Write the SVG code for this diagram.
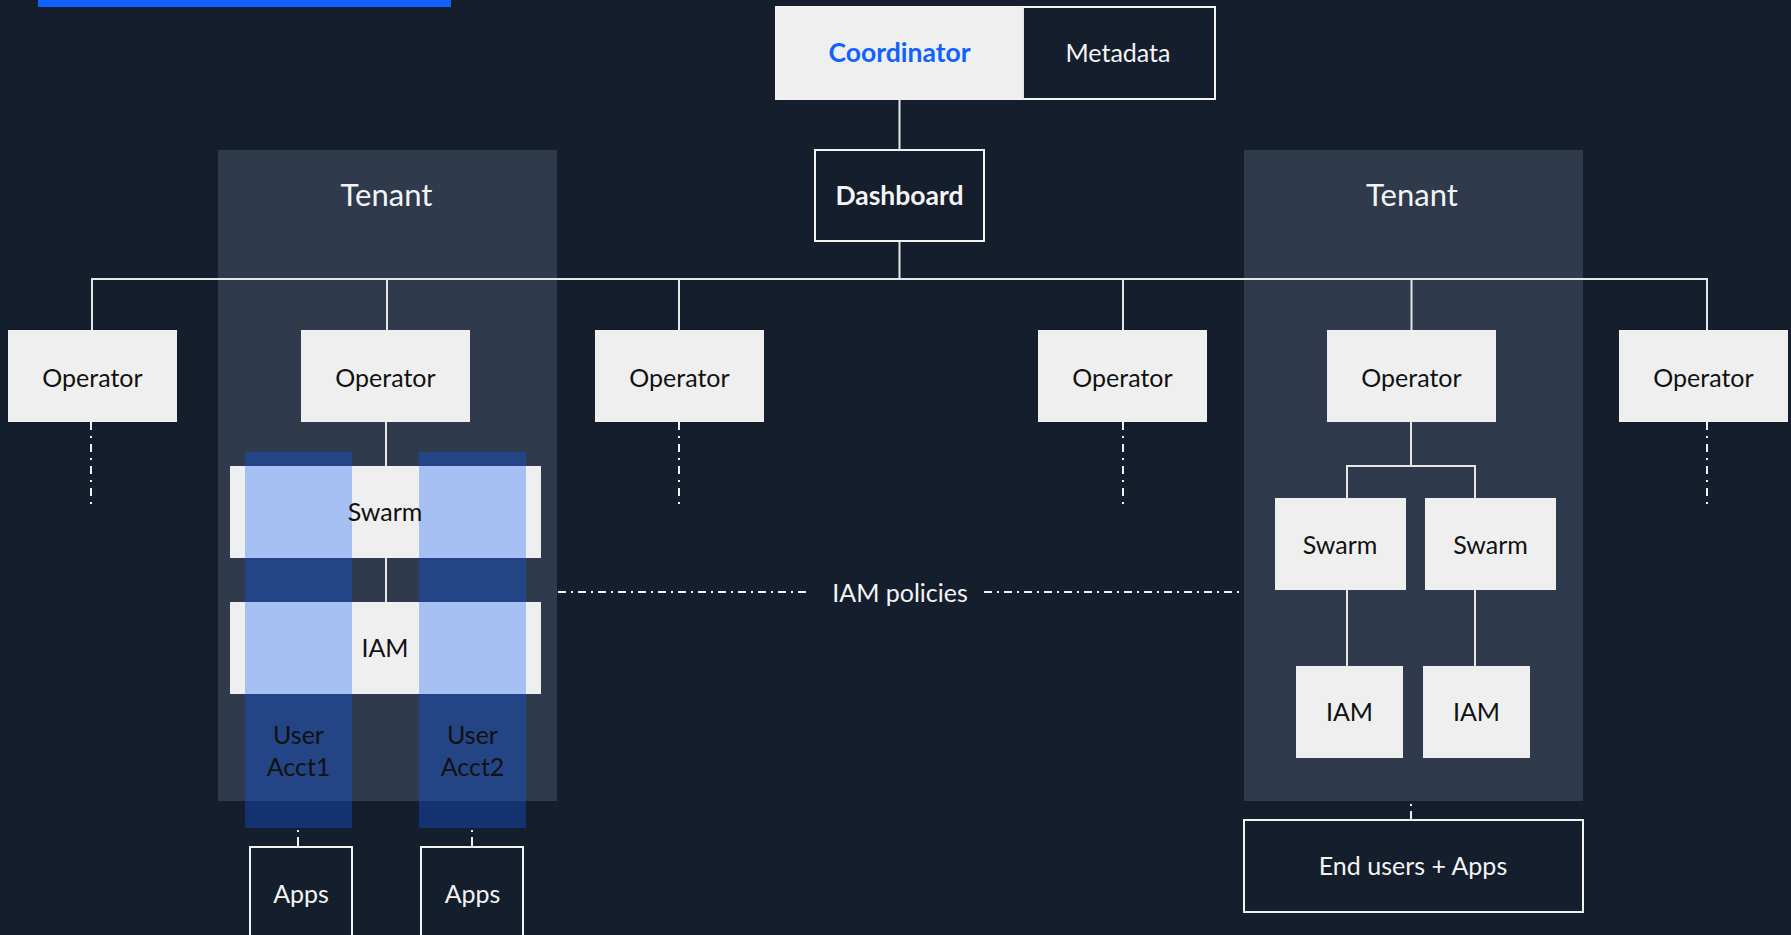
<svg xmlns="http://www.w3.org/2000/svg" width="1791" height="935" viewBox="0 0 1791 935">
<style>
.bg{fill:#151e2d}
.tenant{fill:#2f3a4d}
.light{fill:#efefef}
.darkbox{fill:#151e2d;stroke:#f2f2f2;stroke-width:2}
.acct{fill:#0f5cfb;fill-opacity:0.32}
.t{font-family:Lato,"Liberation Sans",sans-serif;font-size:25px;text-anchor:middle}
.dk{fill:#111111}
.wt{fill:#f4f4f4}
.big{font-size:31px}
.b{font-weight:700;font-size:26.5px}
.ln{stroke:#e6e6e6;stroke-width:2;fill:none}
.dd{stroke:#f0f0f0;stroke-width:2;fill:none;stroke-dasharray:8 6 2 6}
.dp{stroke:#f0f0f0;stroke-width:2;fill:none;stroke-dasharray:8 5 2 5}
</style>
<rect class="bg" x="0" y="0" width="1791" height="935"/>
<rect x="38" y="0" width="413" height="7" fill="#0f62fe"/>

<g id="tenant-left">
<rect class="tenant" x="218" y="150" width="339" height="651"/>
<text class="t wt big" x="386.5" y="206">Tenant</text>
</g>
<g id="tenant-right">
<rect class="tenant" x="1244" y="150" width="339" height="651"/>
<text class="t wt big" x="1412" y="206">Tenant</text>
</g>

<g id="connectors">
<line class="ln" x1="899.5" y1="99" x2="899.5" y2="150"/>
<line class="ln" x1="899.5" y1="241" x2="899.5" y2="279"/>
<line class="ln" x1="91" y1="279" x2="1708" y2="279"/>
<line class="ln" x1="92" y1="279" x2="92" y2="330"/>
<line class="ln" x1="387" y1="279" x2="387" y2="330"/>
<line class="ln" x1="679" y1="279" x2="679" y2="330"/>
<line class="ln" x1="1123" y1="279" x2="1123" y2="330"/>
<line class="ln" x1="1411.5" y1="279" x2="1411.5" y2="330"/>
<line class="ln" x1="1707" y1="279" x2="1707" y2="330"/>
<line class="dd" x1="91" y1="422" x2="91" y2="504"/>
<line class="dd" x1="679" y1="422" x2="679" y2="504"/>
<line class="dd" x1="1123" y1="422" x2="1123" y2="504"/>
<line class="dd" x1="1707" y1="422" x2="1707" y2="504"/>
<line class="ln" x1="386" y1="422" x2="386" y2="466"/>
<line class="ln" x1="386" y1="557" x2="386" y2="602"/>
<polyline class="ln" points="1411,422 1411,466"/>
<polyline class="ln" points="1347,498 1347,466 1475,466 1475,498"/>
<line class="ln" x1="1347" y1="590" x2="1347" y2="666"/>
<line class="ln" x1="1475" y1="590" x2="1475" y2="666"/>
<line class="dp" x1="558" y1="592" x2="810" y2="592"/>
<line class="dp" x1="984" y1="592" x2="1243" y2="592"/>
<line stroke="#f0f0f0" stroke-width="2" stroke-dasharray="0 2 2 5 9 40" x1="298" y1="828" x2="298" y2="847"/>
<line stroke="#f0f0f0" stroke-width="2" stroke-dasharray="0 2 2 5 9 40" x1="472" y1="828" x2="472" y2="847"/>
<line stroke="#f0f0f0" stroke-width="2" stroke-dasharray="0 3 2 5 9 40" x1="1411" y1="801" x2="1411" y2="820"/>
</g>
<text class="t wt" x="900" y="601.5">IAM policies</text>

<g id="coordinator">
<rect class="light" x="776" y="7" width="247" height="92"/>
<rect x="776" y="7" width="439" height="92" fill="none" stroke="#f2f2f2" stroke-width="2"/>
<text class="t b" x="899.5" y="62" fill="#0f62fe">Coordinator</text>
</g>
<g id="metadata">
<rect class="bg" x="1024" y="8" width="190" height="90"/>
<line class="ln" x1="1023" y1="7" x2="1023" y2="99"/>
<text class="t wt" x="1118" y="62">Metadata</text>
</g>
<g id="dashboard">
<rect class="darkbox" x="815" y="150" width="169" height="91"/>
<text class="t wt b" x="899.5" y="204.5">Dashboard</text>
</g>

<g id="operator1"><rect class="light" x="8" y="330" width="169" height="92"/><text class="t dk" x="92.5" y="386.5">Operator</text></g>
<g id="operator2"><rect class="light" x="301" y="330" width="169" height="92"/><text class="t dk" x="385.5" y="386.5">Operator</text></g>
<g id="operator3"><rect class="light" x="595" y="330" width="169" height="92"/><text class="t dk" x="679.5" y="386.5">Operator</text></g>
<g id="operator4"><rect class="light" x="1038" y="330" width="169" height="92"/><text class="t dk" x="1122.5" y="386.5">Operator</text></g>
<g id="operator5"><rect class="light" x="1327" y="330" width="169" height="92"/><text class="t dk" x="1411.5" y="386.5">Operator</text></g>
<g id="operator6"><rect class="light" x="1619" y="330" width="169" height="92"/><text class="t dk" x="1703.5" y="386.5">Operator</text></g>

<g id="swarm-left"><rect class="light" x="230" y="466" width="311" height="92"/></g>
<g id="iam-left"><rect class="light" x="230" y="602" width="311" height="92"/></g>
<g id="user-acct1">
<rect class="acct" x="245" y="452" width="107" height="376"/>
<text class="t dk" x="298.5" y="744">User</text>
<text class="t dk" x="298.5" y="776">Acct1</text>
</g>
<g id="user-acct2">
<rect class="acct" x="419" y="452" width="107" height="376"/>
<text class="t dk" x="472.5" y="744">User</text>
<text class="t dk" x="472.5" y="776">Acct2</text>
</g>
<text class="t dk" x="385" y="521">Swarm</text>
<text class="t dk" x="385" y="657">IAM</text>

<g id="apps1"><rect class="darkbox" x="250" y="847" width="102" height="100"/><text class="t wt" x="301" y="903">Apps</text></g>
<g id="apps2"><rect class="darkbox" x="421" y="847" width="102" height="100"/><text class="t wt" x="472.5" y="903">Apps</text></g>

<g id="swarm-a"><rect class="light" x="1275" y="498" width="131" height="92"/><text class="t dk" x="1340" y="554">Swarm</text></g>
<g id="swarm-b"><rect class="light" x="1425" y="498" width="131" height="92"/><text class="t dk" x="1490.5" y="554">Swarm</text></g>
<g id="iam-a"><rect class="light" x="1296" y="666" width="107" height="92"/><text class="t dk" x="1349.5" y="721">IAM</text></g>
<g id="iam-b"><rect class="light" x="1423" y="666" width="107" height="92"/><text class="t dk" x="1476.5" y="721">IAM</text></g>

<g id="end-users"><rect class="darkbox" x="1244" y="820" width="339" height="92"/><text class="t wt" x="1413" y="874.5">End users + Apps</text></g>
</svg>
